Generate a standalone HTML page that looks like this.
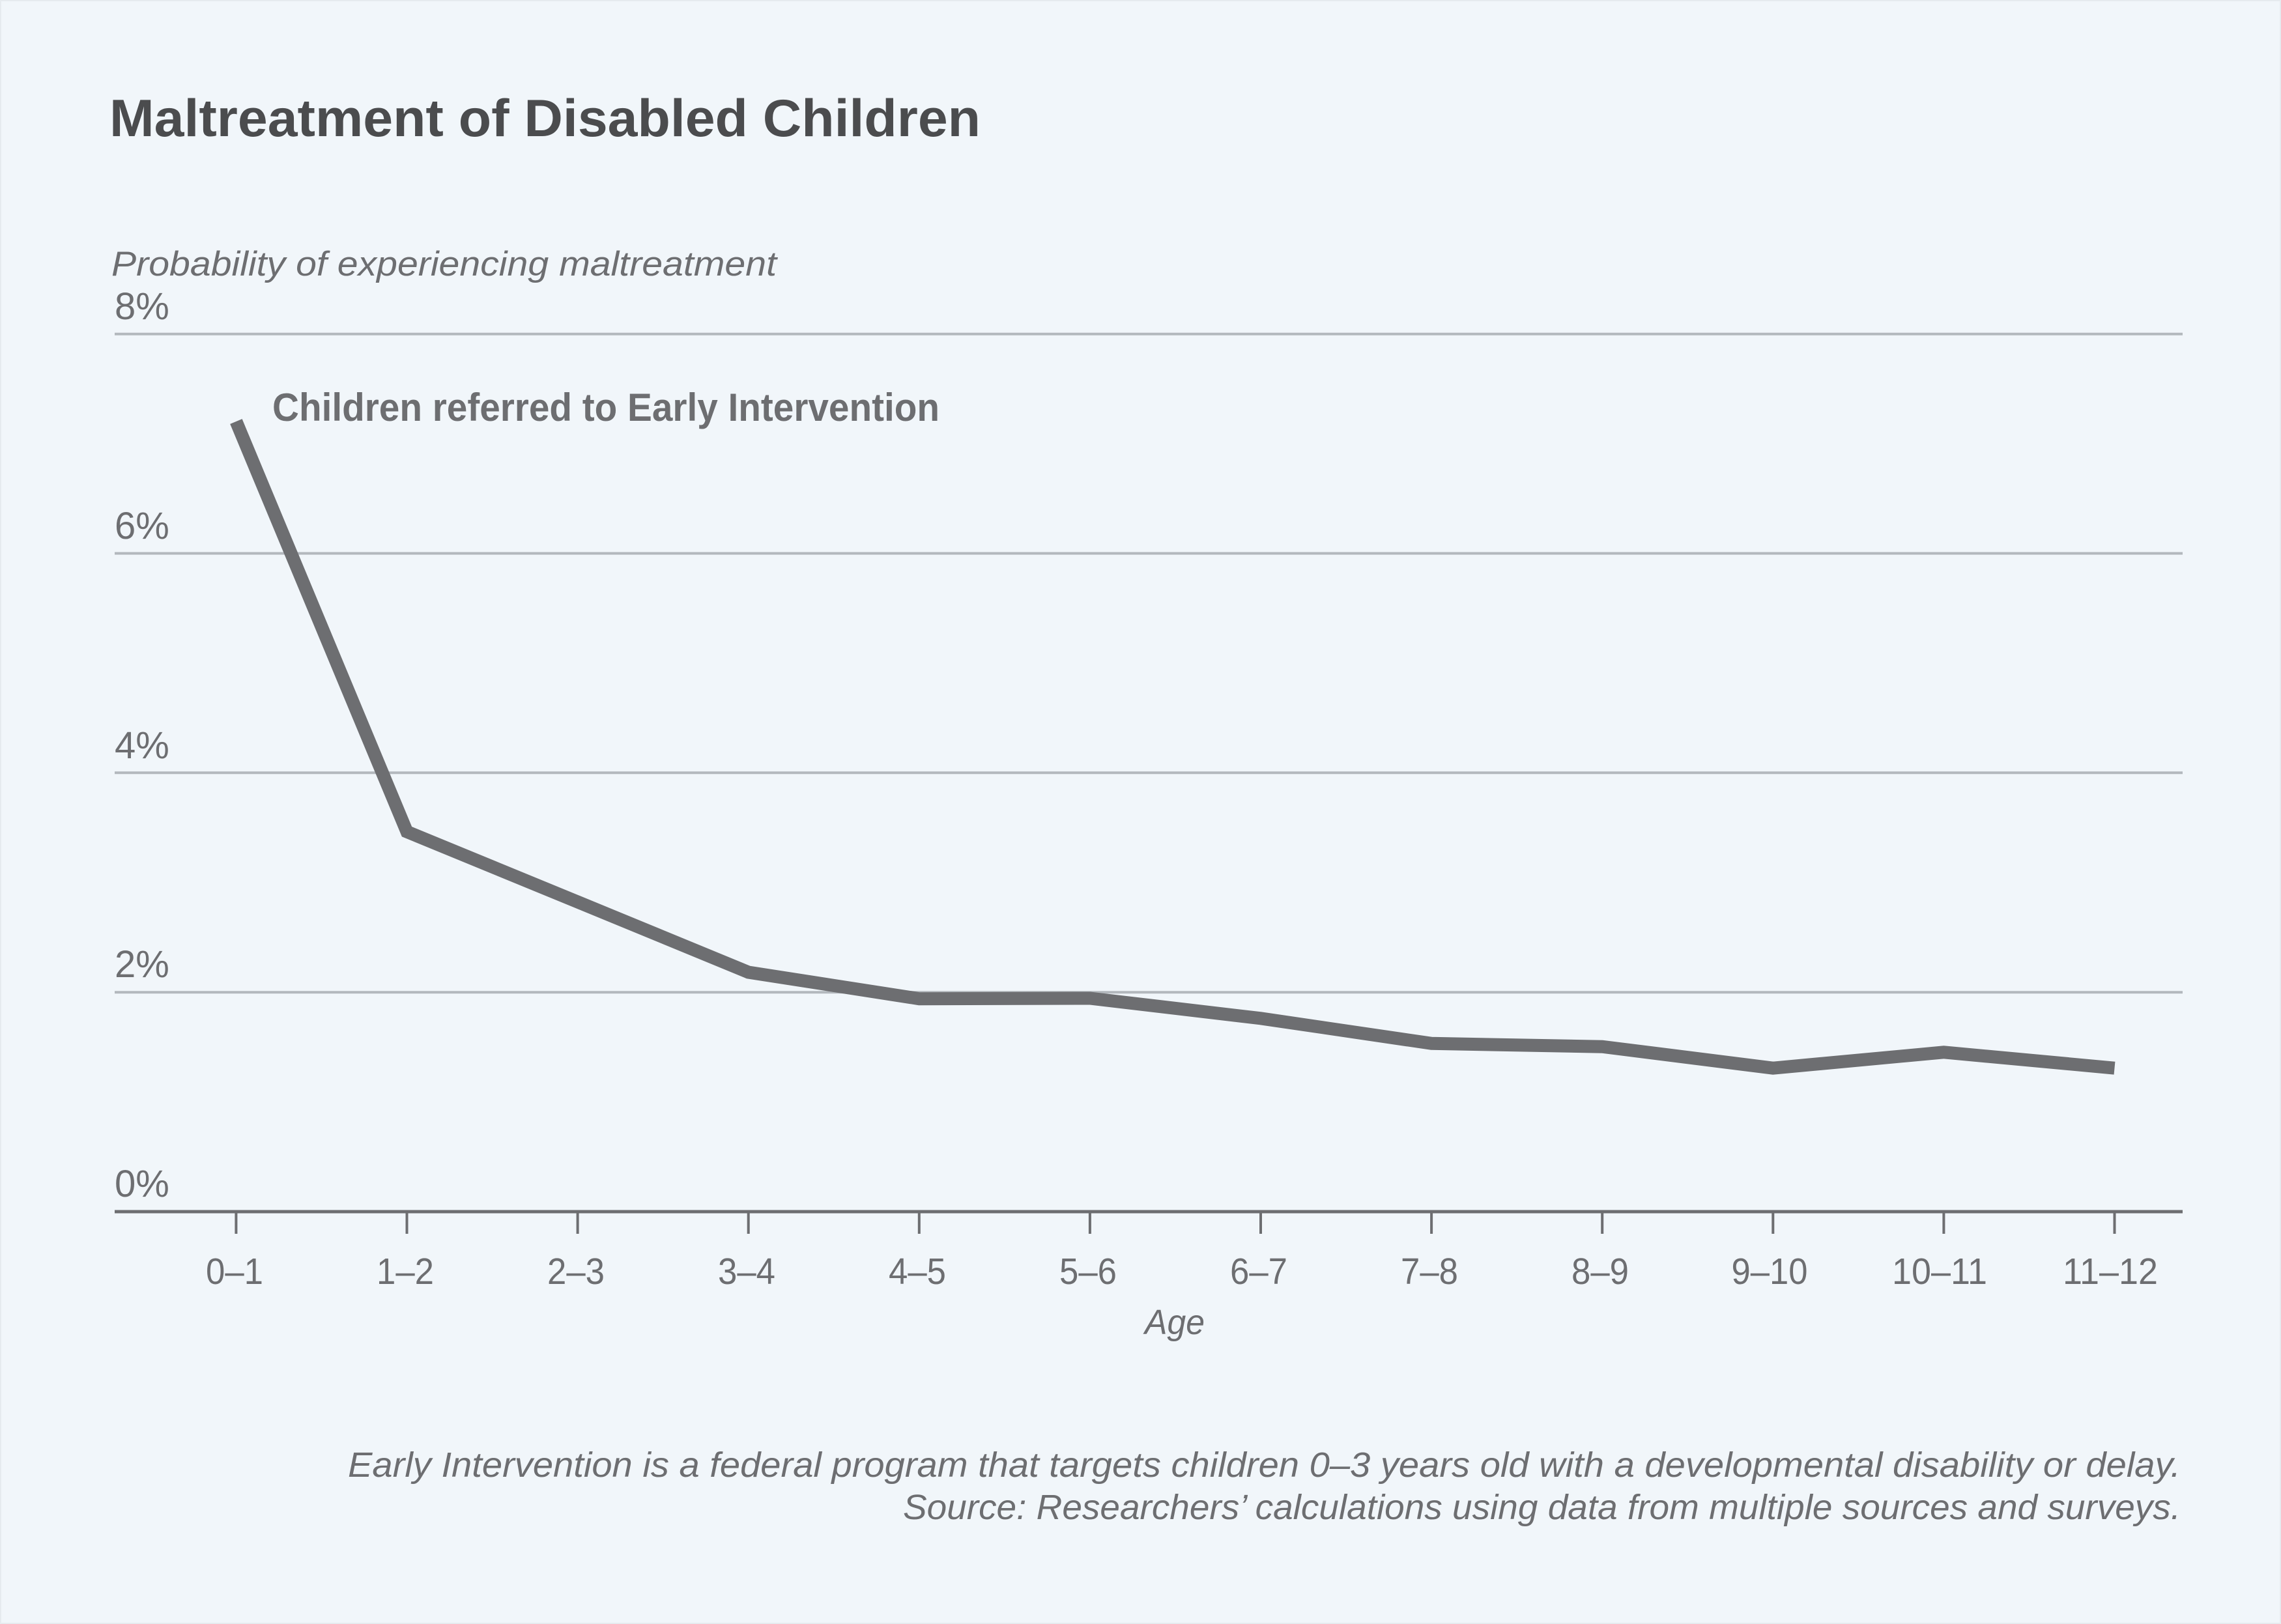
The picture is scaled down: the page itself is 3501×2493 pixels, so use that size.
<!DOCTYPE html>
<html>
<head>
<meta charset="utf-8">
<style>
  html, body { margin:0; padding:0; background:#f1f6fa; }
  svg { display:block; }
  text { font-family: "Liberation Sans", sans-serif; }
</style>
</head>
<body>
<svg width="3501" height="2493" viewBox="0 0 3501 2493" xmlns="http://www.w3.org/2000/svg">
  <rect x="0" y="0" width="3501" height="2493" fill="#f1f6fa"/>
  <rect x="0.5" y="0.5" width="3500" height="2492" fill="none" stroke="#e6ebef" stroke-width="3"/>

  <!-- Title -->
  <text x="168" y="209" font-size="81" font-weight="bold" fill="#4b4c4e" textLength="1337" lengthAdjust="spacingAndGlyphs">Maltreatment of Disabled Children</text>

  <!-- Y axis title -->
  <text x="171" y="423" font-size="53" font-style="italic" fill="#6d6e71" textLength="1021" lengthAdjust="spacingAndGlyphs">Probability of experiencing maltreatment</text>

  <!-- Gridlines -->
  <g stroke="#b3b8bd" stroke-width="4">
    <line x1="176" y1="512.7" x2="3350" y2="512.7"/>
    <line x1="176" y1="849.5" x2="3350" y2="849.5"/>
    <line x1="176" y1="1186.3" x2="3350" y2="1186.3"/>
    <line x1="176" y1="1523.2" x2="3350" y2="1523.2"/>
  </g>

  <!-- Y tick labels -->
  <g font-size="58" fill="#6d6e71">
    <text x="176" y="490">8%</text>
    <text x="176" y="827">6%</text>
    <text x="176" y="1164">4%</text>
    <text x="176" y="1500">2%</text>
    <text x="176" y="1837">0%</text>
  </g>

  <!-- X axis -->
  <line x1="176" y1="1860" x2="3350" y2="1860" stroke="#6d6e71" stroke-width="5"/>
  <g stroke="#6d6e71" stroke-width="4">
    <line x1="362.4" y1="1860" x2="362.4" y2="1894"/>
    <line x1="624.5" y1="1860" x2="624.5" y2="1894"/>
    <line x1="886.6" y1="1860" x2="886.6" y2="1894"/>
    <line x1="1148.7" y1="1860" x2="1148.7" y2="1894"/>
    <line x1="1410.8" y1="1860" x2="1410.8" y2="1894"/>
    <line x1="1672.9" y1="1860" x2="1672.9" y2="1894"/>
    <line x1="1935.0" y1="1860" x2="1935.0" y2="1894"/>
    <line x1="2197.1" y1="1860" x2="2197.1" y2="1894"/>
    <line x1="2459.2" y1="1860" x2="2459.2" y2="1894"/>
    <line x1="2721.3" y1="1860" x2="2721.3" y2="1894"/>
    <line x1="2983.4" y1="1860" x2="2983.4" y2="1894"/>
    <line x1="3245.5" y1="1860" x2="3245.5" y2="1894"/>
  </g>

  <!-- X tick labels -->
  <g font-size="57" fill="#6d6e71" text-anchor="middle">
    <text x="360" y="1971" textLength="88" lengthAdjust="spacingAndGlyphs">0–1</text>
    <text x="622" y="1971" textLength="88" lengthAdjust="spacingAndGlyphs">1–2</text>
    <text x="884" y="1971" textLength="88" lengthAdjust="spacingAndGlyphs">2–3</text>
    <text x="1146" y="1971" textLength="88" lengthAdjust="spacingAndGlyphs">3–4</text>
    <text x="1408" y="1971" textLength="88" lengthAdjust="spacingAndGlyphs">4–5</text>
    <text x="1670" y="1971" textLength="88" lengthAdjust="spacingAndGlyphs">5–6</text>
    <text x="1932" y="1971" textLength="88" lengthAdjust="spacingAndGlyphs">6–7</text>
    <text x="2194" y="1971" textLength="88" lengthAdjust="spacingAndGlyphs">7–8</text>
    <text x="2456" y="1971" textLength="88" lengthAdjust="spacingAndGlyphs">8–9</text>
    <text x="2716" y="1971" textLength="117" lengthAdjust="spacingAndGlyphs">9–10</text>
    <text x="2977" y="1971" textLength="146" lengthAdjust="spacingAndGlyphs">10–11</text>
    <text x="3239" y="1971" textLength="146" lengthAdjust="spacingAndGlyphs">11–12</text>
  </g>

  <!-- X axis title -->
  <text x="1803" y="2048" font-size="54" font-style="italic" fill="#6d6e71" text-anchor="middle" textLength="92" lengthAdjust="spacingAndGlyphs">Age</text>

  <!-- Data line -->
  <polyline fill="none" stroke="#6d6e71" stroke-width="20" stroke-linejoin="miter" stroke-linecap="butt"
    points="362.4,647 624.5,1276.7 886.6,1384.5 1148.7,1492.5 1410.8,1533.2 1672.9,1532.5 1935.0,1563.3 2197.1,1601.8 2459.2,1606.7 2721.3,1639.7 2983.4,1615.3 3245.5,1639.7"/>

  <!-- Series label -->
  <text x="418" y="646" font-size="60" font-weight="bold" fill="#6d6e71" textLength="1024" lengthAdjust="spacingAndGlyphs">Children referred to Early Intervention</text>

  <!-- Footnotes -->
  <g font-size="54" font-style="italic" fill="#6d6e71" text-anchor="end">
    <text x="3347" y="2267" textLength="2813" lengthAdjust="spacingAndGlyphs">Early Intervention is a federal program that targets children 0–3 years old with a developmental disability or delay.</text>
    <text x="3347" y="2332" textLength="1961" lengthAdjust="spacingAndGlyphs">Source: Researchers’ calculations using data from multiple sources and surveys.</text>
  </g>
</svg>
</body>
</html>
